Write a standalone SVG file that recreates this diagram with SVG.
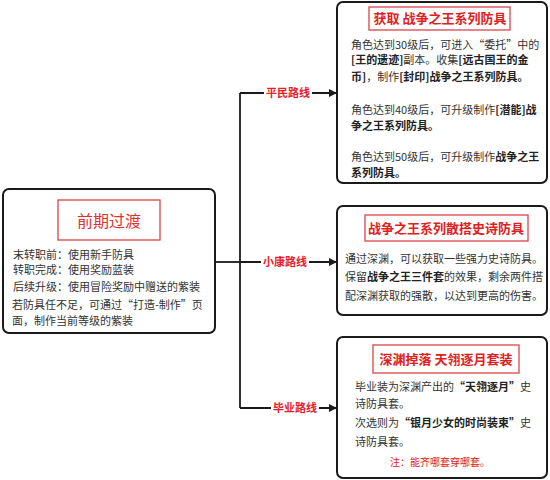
<svg xmlns="http://www.w3.org/2000/svg" width="550" height="480" viewBox="0 0 550 480">
<defs>
<marker id="arr" markerWidth="8" markerHeight="8" refX="7" refY="4" orient="auto" markerUnits="userSpaceOnUse">
<path d="M0,0 L8,4 L0,8 Z" fill="#1a1a1a"/>
</marker>
<style>
.box{fill:#fff;stroke:#1a1a1a;stroke-width:2}
.tbox{fill:#fff;stroke:#d9464a;stroke-width:1.3}
text{font-family:"Noto Sans CJK SC","Microsoft YaHei",sans-serif}
.t{fill:#333;font-size:11px}
.b{font-weight:bold;fill:#222}
.title{fill:#e02020;font-weight:bold;font-size:13px;text-anchor:middle}
.lab{fill:#e8202a;font-weight:bold;font-size:11px;text-anchor:middle}
.line{fill:none;stroke:#1a1a1a;stroke-width:1.8}
</style>
</defs>
<rect width="550" height="480" fill="#fff"/>
<g id="connectors">
<path class="line" d="M215,262 H240"/>
<path class="line" d="M240,93 V408"/>
<path class="line" d="M240,93 H336" marker-end="url(#arr)"/>
<path class="line" d="M240,262 H336" marker-end="url(#arr)"/>
<path class="line" d="M240,408 H336" marker-end="url(#arr)"/>
<rect x="264" y="85" width="48" height="16" fill="#fff"/>
<text class="lab" x="288" y="97">平民路线</text>
<rect x="261" y="254" width="48" height="16" fill="#fff"/>
<text class="lab" x="285" y="266">小康路线</text>
<rect x="271" y="400" width="48" height="16" fill="#fff"/>
<text class="lab" x="295" y="412">毕业路线</text>
</g>
<g id="node-early">
<rect class="box" x="3" y="189" width="212" height="144" rx="6"/>
<rect class="tbox" x="58" y="200" width="102" height="40"/>
<text x="109" y="227" fill="#e03030" font-size="16" text-anchor="middle">前期过渡</text>
<text class="t" x="13" y="259" font-size="11.5px">末转职前：使用新手防具</text>
<text class="t" x="13" y="274" font-size="11.5px">转职完成：使用奖励蓝装</text>
<text class="t" x="13" y="291" font-size="11.5px">后续升级：使用冒险奖励中赠送的紫装</text>
<text class="t" x="12" y="309" font-size="11.5px">若防具任不足，可通过“打造-制作”页</text>
<text class="t" x="12" y="325" font-size="11.5px">面，制作当前等级的紫装</text>
</g>
<g id="node-civilian">
<rect class="box" x="337" y="2" width="210" height="181" rx="6"/>
<rect class="tbox" x="369" y="7" width="141" height="23"/>
<text class="title" x="440" y="23">获取 战争之王系列防具</text>
<text class="t" x="351" y="49">角色达到30级后，可进入“委托”中的</text>
<text class="t" x="351" y="64"><tspan class="b">[王的遗迹]</tspan>副本。收集<tspan class="b">[远古国王的金</tspan></text>
<text class="t" x="351" y="81"><tspan class="b">币]</tspan>，制作<tspan class="b">[封印]战争之王系列防具。</tspan></text>
<text class="t" x="351" y="114">角色达到40级后，可升级制作<tspan class="b">[潜能]战</tspan></text>
<text class="t" x="351" y="130"><tspan class="b">争之王系列防具。</tspan></text>
<text class="t" x="351" y="161">角色达到50级后，可升级制作<tspan class="b">战争之王</tspan></text>
<text class="t" x="351" y="177"><tspan class="b">系列防具。</tspan></text>
</g>
<g id="node-middle">
<rect class="box" x="337" y="206" width="210" height="109" rx="6"/>
<rect class="tbox" x="365" y="215" width="163" height="26"/>
<text class="title" x="446" y="233">战争之王系列散搭史诗防具</text>
<text class="t" x="345" y="263" font-size="10.4px">通过深渊，可以获取一些强力史诗防具。</text>
<text class="t" x="345" y="281" font-size="10.4px">保留<tspan class="b">战争之王三件套</tspan>的效果，剩余两件搭</text>
<text class="t" x="345" y="300" font-size="10.4px">配深渊获取的强散，以达到更高的伤害。</text>
</g>
<g id="node-grad">
<rect class="box" x="337" y="337" width="210" height="141" rx="6"/>
<rect class="tbox" x="373" y="345" width="146" height="28"/>
<text class="title" x="446" y="364" font-size="14px">深渊掉落 天翎逐月套装</text>
<text class="t" x="355" y="391">毕业装为深渊产出的<tspan class="b">“天翎逐月”</tspan>史</text>
<text class="t" x="355" y="408">诗防具套。</text>
<text class="t" x="355" y="427">次选则为<tspan class="b">“银月少女的时尚装束”</tspan>史</text>
<text class="t" x="355" y="446">诗防具套。</text>
<text x="440" y="466" fill="#e02020" font-size="10px" text-anchor="middle">注：能齐哪套穿哪套。</text>
</g>
</svg>
